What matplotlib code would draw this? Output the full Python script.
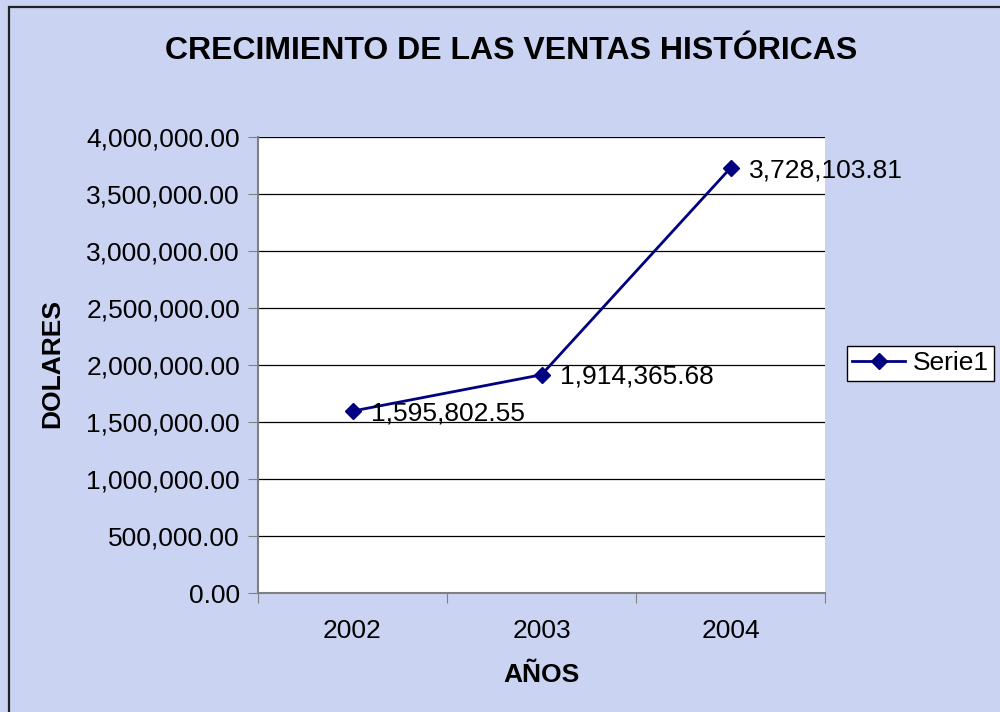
import matplotlib.pyplot as plt
from matplotlib.patches import Rectangle
from matplotlib.ticker import FuncFormatter, MultipleLocator

years = ["2002", "2003", "2004"]
ventas = [1595802.55, 1914365.68, 3728103.81]
serie_name = "Serie1"

plt.rcParams['font.family'] = ['Liberation Sans', 'DejaVu Sans']

fig = plt.figure(figsize=(10, 7.12), dpi=100)
fig.patch.set_facecolor("#cad4f2")
# black frame on top / left edges (right and bottom are cut off)
fig.add_artist(Rectangle((0.0085, -0.05), 1.2, 1.04,
                         transform=fig.transFigure, fill=False,
                         edgecolor="#222222", linewidth=1.6))

ax = fig.add_axes([0.258, 0.1671, 0.567, 0.6405])
ax.set_facecolor("white")

xs = list(range(len(years)))
ax.plot(xs, ventas, color="#000080", linewidth=2, marker="D", markersize=8,
        label=serie_name)
for x, v in zip(xs, ventas):
    ax.annotate(f"{v:,.2f}", (x, v), xytext=(13, -1.5), textcoords="offset points",
                fontsize=19, va="center", ha="left", annotation_clip=False)

ax.set_xlim(-0.5, 2.5)
ax.set_ylim(0, 4000000)
ax.yaxis.set_major_locator(MultipleLocator(500000))
ax.yaxis.set_major_formatter(FuncFormatter(lambda v, p: f"{v:,.2f}"))
ax.grid(axis="y", color="black", linewidth=0.9)
ax.set_axisbelow(True)

ax.set_xticks([-0.5, 0.5, 1.5, 2.5])
ax.set_xticklabels([])
ax.set_xticks(xs, minor=True)
ax.set_xticklabels(years, minor=True)
ax.tick_params(axis="x", which="minor", length=0, pad=19, labelsize=19)
ax.tick_params(axis="x", which="major", length=7, direction="out", color="#808080")
ax.tick_params(axis="y", length=7, direction="out", color="#808080", labelsize=19, pad=6)

for s in ["top", "right"]:
    ax.spines[s].set_visible(False)
for s in ["left", "bottom"]:
    ax.spines[s].set_color("#808080")
    ax.spines[s].set_linewidth(1.5)

fig.text(0.511, 0.929, "CRECIMIENTO DE LAS VENTAS HISTÓRICAS", ha="center",
         va="center", fontsize=23, fontweight="bold")
fig.text(0.541, 0.052, "AÑOS", ha="center", va="center", fontsize=19,
         fontweight="bold")
fig.text(0.052, 0.489, "DOLARES", ha="center", va="center", fontsize=19,
         fontweight="bold", rotation=90)

leg = fig.legend(loc="center left", bbox_to_anchor=(0.847, 0.4895), fontsize=19,
                 frameon=True, fancybox=False, edgecolor="black",
                 handlelength=2.0, borderpad=0.2, handletextpad=0.3,
                 borderaxespad=0)
leg.get_frame().set_linewidth(1.0)
leg.get_frame().set_facecolor("white")
leg.get_frame().set_alpha(1)

fig.savefig("out.png", dpi=100, facecolor=fig.get_facecolor())
